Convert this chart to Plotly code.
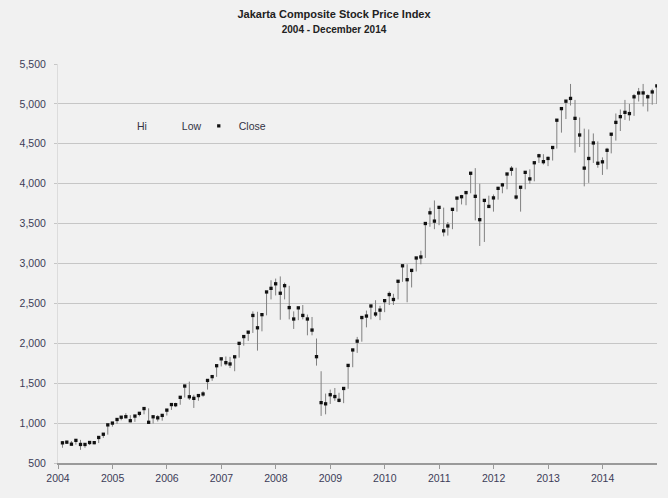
import calendar
import plotly.graph_objects as go

years = list(range(2004, 2015))
dates = [f"{y}-{m:02d}-{calendar.monthrange(y, m)[1]:02d}" for y in years for m in range(1, 13)]

close = [
    752.9, 761.1, 735.7, 783.4, 732.5, 732.4, 757.0, 754.7, 820.1, 860.5, 977.8, 1000.2,
    1045.4, 1073.8, 1080.2, 1029.6, 1088.2, 1122.4, 1182.3, 1010.0, 1079.3, 1066.2, 1096.6, 1162.6,
    1232.3, 1230.7, 1323.0, 1464.4, 1330.0, 1310.3, 1345.0, 1365.0, 1534.6, 1582.6, 1719.0, 1805.5,
    1757.3, 1741.0, 1830.9, 1999.2, 2084.3, 2139.3, 2348.7, 2194.3, 2359.2, 2643.5, 2688.3, 2745.8,
    2627.3, 2721.9, 2447.3, 2304.5, 2444.3, 2349.1, 2304.5, 2165.9, 1832.5, 1256.7, 1241.5, 1355.4,
    1332.7, 1285.5, 1434.1, 1722.8, 1916.8, 2026.8, 2323.2, 2341.5, 2467.6, 2367.7, 2415.8, 2534.4,
    2610.8, 2549.0, 2777.3, 2971.3, 2797.0, 2913.7, 3069.3, 3081.9, 3501.3, 3635.3, 3531.2, 3703.5,
    3409.2, 3470.4, 3678.7, 3819.6, 3837.0, 3888.6, 4130.8, 3841.7, 3549.0, 3790.8, 3715.1, 3822.0,
    3941.7, 3985.2, 4121.6, 4180.7, 3832.8, 3955.6, 4142.3, 4060.3, 4262.6, 4350.3, 4276.1, 4316.7,
    4453.7, 4795.8, 4941.0, 5034.1, 5068.6, 4818.9, 4610.4, 4195.1, 4316.2, 4510.6, 4256.4, 4274.2,
    4418.8, 4620.2, 4768.3, 4840.1, 4893.9, 4878.6, 5088.8, 5136.9, 5137.6, 5089.5, 5149.9, 5226.9,
]

high = [
    775, 778, 775, 800, 790, 745, 770, 770, 825, 875, 980, 1005,
    1055, 1085, 1125, 1100, 1095, 1130, 1190, 1185, 1090, 1100, 1105, 1165,
    1240, 1255, 1330, 1480, 1520, 1355, 1360, 1400, 1540, 1590, 1725, 1810,
    1835, 1830, 1835, 2005, 2090, 2145, 2400, 2395, 2365, 2650, 2790, 2811,
    2838, 2760, 2720, 2400, 2450, 2480, 2360, 2330, 2060, 1650, 1370, 1420,
    1440, 1380, 1440, 1730, 1930, 2080, 2330, 2410, 2480, 2540, 2470, 2540,
    2650, 2620, 2785, 2980, 2990, 2930, 3080, 3160, 3510, 3700, 3790, 3710,
    3700, 3520, 3690, 3830, 3860, 3900, 4140, 4195, 4000, 3800, 3850, 3865,
    3960, 4010, 4125, 4220, 4200, 3970, 4150, 4180, 4265, 4375, 4370, 4340,
    4465, 4800, 4950, 5040, 5250, 5050, 4830, 4690, 4680, 4630, 4530, 4330,
    4450, 4630, 4880, 4930, 5050, 5000, 5125, 5200, 5250, 5120, 5190, 5230,
]

low = [
    691, 740, 720, 730, 665, 690, 725, 735, 750, 815, 855, 955,
    990, 1035, 1060, 1010, 1015, 1085, 1110, 994, 995, 1020, 1030, 1095,
    1165, 1200, 1230, 1320, 1290, 1190, 1280, 1330, 1420, 1530, 1580, 1710,
    1720, 1690, 1650, 1820, 1970, 2030, 2130, 1908, 2150, 2350, 2550, 2600,
    2295, 2550, 2300, 2180, 2290, 2300, 2100, 2100, 1720, 1090, 1110, 1240,
    1280, 1260, 1250, 1430, 1700, 1880, 2020, 2200, 2300, 2330, 2290, 2390,
    2480, 2480, 2550, 2770, 2514, 2700, 2900, 2990, 3070, 3460, 3430, 3480,
    3340, 3350, 3430, 3650, 3740, 3730, 3880, 3540, 3220, 3270, 3700, 3650,
    3800, 3880, 3930, 4100, 3800, 3650, 3930, 4000, 4030, 4260, 4240, 4220,
    4290, 4440, 4640, 4810, 4980, 4390, 4460, 3967, 4010, 4260, 4200, 4110,
    4180, 4380, 4540, 4660, 4800, 4790, 4850, 5030, 4968, 4905, 4990, 5000,
]

y_ticks = list(range(500, 5501, 500))
x_tick_labels = [str(y) for y in years]
x_tick_vals = [f"{y}-01-01" for y in years]

label_color = "#3c3c58"
font_family = "Liberation Sans, Arial, sans-serif"

fig = go.Figure()

fig.add_trace(go.Scatter(
    x=dates, y=high, name="Hi", mode="markers", legend="legend",
    marker=dict(size=1, color="rgba(0,0,0,0)"),
    error_y=dict(type="data", symmetric=False,
                 array=[0] * len(high),
                 arrayminus=[h - l for h, l in zip(high, low)],
                 color="#808080", thickness=1, width=0),
))
fig.add_trace(go.Scatter(
    x=dates, y=low, name="Low", mode="markers", legend="legend2",
    marker=dict(size=1, color="rgba(0,0,0,0)"),
))
fig.add_trace(go.Scatter(
    x=dates, y=close, name="Close", mode="markers", legend="legend3",
    marker=dict(symbol="square", size=3.3, color="#111111"),
))

legend_common = dict(
    orientation="h", xanchor="left", y=0.845, yanchor="middle",
    bgcolor="rgba(0,0,0,0)", font=dict(size=10.5, color="#333344"),
)

fig.update_layout(
    width=668, height=498,
    margin=dict(l=58, r=11, t=64, b=35),
    paper_bgcolor="#f1f1f1",
    plot_bgcolor="#f1f1f1",
    font=dict(family=font_family, size=10.5, color=label_color),
    title=dict(
        text="<b>Jakarta Composite Stock Price Index</b><br><b><span style='font-size:10px'>2004 - December 2014</span></b>",
        x=0.5, xanchor="center", y=0.963, yanchor="top",
        font=dict(family=font_family, size=11, color="#222222"),
    ),
    showlegend=True,
    legend=dict(legend_common, x=0.065),
    legend2=dict(legend_common, x=0.140),
    legend3=dict(legend_common, x=0.235),
    xaxis=dict(
        type="date", range=["2004-01-01", "2015-01-01"],
        tickvals=x_tick_vals, ticktext=x_tick_labels,
        showgrid=False, showline=True, linecolor="#9a9a9a", linewidth=2,
        ticks="outside", ticklen=4, tickcolor="#9a9a9a",
        zeroline=False,
    ),
    yaxis=dict(
        range=[500, 5500], tickvals=y_ticks, tickformat=",",
        showgrid=True, gridcolor="#c6c6c6", gridwidth=1.3,
        showline=True, linecolor="#dcdcdc", linewidth=1,
        ticks="outside", ticklen=3, tickcolor="#c6c6c6",
        ticklabelstandoff=6,
        zeroline=False,
    ),
)

fig.write_html("out.html")
